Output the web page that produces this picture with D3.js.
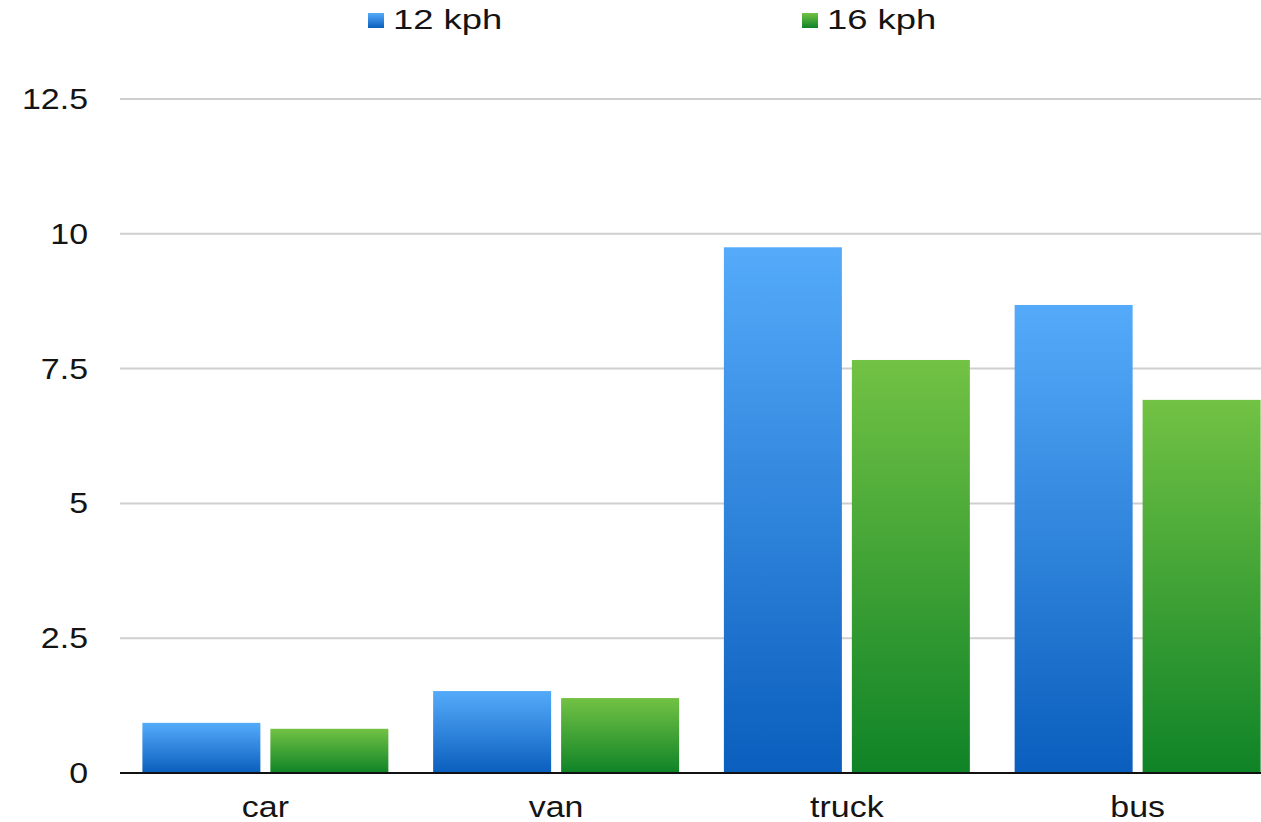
<!DOCTYPE html>
<html>
<head>
<meta charset="utf-8">
<script src="https://cdn.jsdelivr.net/npm/d3@7"></script>
<style>
  body { margin: 0; background: #fff; }
  text { font-family: "Liberation Sans", Arial, sans-serif; fill: #141414; }
</style>
</head>
<body>
<div id="chart"></div>
<script>
// data
var categories = ["car", "van", "truck", "bus"];
var seriesNames = ["12 kph", "16 kph"];
var kph12 = [0.93, 1.52, 9.75, 8.68];
var kph16 = [0.82, 1.39, 7.66, 6.92];
var yTicks = [0, 2.5, 5, 7.5, 10, 12.5];

var width = 1261, height = 822;
var margin = {top: 99, left: 120, bottom: 49};
var plotRight = 1283; // last group runs off the right edge in the original

var svg = d3.select("#chart").append("svg")
    .attr("width", width)
    .attr("height", height);

// gradients for the bars
var defs = svg.append("defs");
var grads = [
    {id: "gBlue", top: "#55abfa", bottom: "#0a5ebd"},
    {id: "gGreen", top: "#72c244", bottom: "#0f8327"}
];
grads.forEach(function(g) {
    var lg = defs.append("linearGradient")
        .attr("id", g.id)
        .attr("x1", 0).attr("y1", 0).attr("x2", 0).attr("y2", 1);
    lg.append("stop").attr("offset", "0%").attr("stop-color", g.top);
    lg.append("stop").attr("offset", "100%").attr("stop-color", g.bottom);
});

var y = d3.scaleLinear()
    .domain([0, 12.5])
    .range([height - margin.bottom, margin.top]);

var x0 = d3.scaleBand()
    .domain(categories)
    .range([margin.left, plotRight])
    .paddingInner(0.154)
    .paddingOuter(0.077);

var x1 = d3.scaleBand()
    .domain(seriesNames)
    .range([0, x0.bandwidth()])
    .paddingInner(0.078);

var fmt = function(d) { return d3.format("~g")(d); };

// gridlines
svg.append("g")
    .selectAll("line")
    .data(yTicks.filter(function(d) { return d > 0; })).enter()
    .append("line")
    .attr("x1", margin.left)
    .attr("x2", width)
    .attr("y1", function(d) { return y(d); })
    .attr("y2", function(d) { return y(d); })
    .style("stroke", "#cfcfcf")
    .style("stroke-width", 2);

// y tick labels (original text is stretched wide)
svg.append("g")
    .selectAll("text")
    .data(yTicks).enter()
    .append("text")
    .attr("transform", function(d) {
        return "translate(88," + (y(d) + 10) + ") scale(1.17,1)";
    })
    .style("text-anchor", "end")
    .style("font-size", "29px")
    .text(fmt);

// bars
var rows = categories.map(function(c, i) {
    return {cat: c, values: [kph12[i], kph16[i]]};
});
var groups = svg.append("g")
    .selectAll("g")
    .data(rows).enter()
    .append("g")
    .attr("transform", function(d) { return "translate(" + x0(d.cat) + ",0)"; });

groups.selectAll("rect")
    .data(function(d) {
        return d.values.map(function(v, j) { return {s: seriesNames[j], v: v, j: j}; });
    }).enter()
    .append("rect")
    .attr("x", function(d) { return x1(d.s); })
    .attr("y", function(d) { return y(d.v); })
    .attr("width", x1.bandwidth())
    .attr("height", function(d) { return y(0) - y(d.v); })
    .style("fill", function(d) { return "url(#" + grads[d.j].id + ")"; });

// baseline
svg.append("line")
    .attr("x1", margin.left)
    .attr("x2", width)
    .attr("y1", y(0))
    .attr("y2", y(0))
    .style("stroke", "#111")
    .style("stroke-width", 2);

// category labels
svg.append("g")
    .selectAll("text")
    .data(categories).enter()
    .append("text")
    .attr("transform", function(d) {
        return "translate(" + (x0(d) + x0.bandwidth() / 2) + ",817) scale(1.17,1)";
    })
    .style("text-anchor", "middle")
    .style("font-size", "29px")
    .text(function(d) { return d; });

// legend
var legendX = [368, 802];
var legend = svg.append("g")
    .selectAll("g")
    .data(seriesNames).enter()
    .append("g")
    .attr("transform", function(d, i) { return "translate(" + legendX[i] + ",13)"; });

legend.append("rect")
    .attr("width", 16)
    .attr("height", 15)
    .style("fill", function(d, i) { return "url(#" + grads[i].id + ")"; });

legend.append("text")
    .attr("transform", "translate(25,16) scale(1.3,1)")
    .style("font-size", "28px")
    .text(function(d) { return d; });
</script>
</body>
</html>
